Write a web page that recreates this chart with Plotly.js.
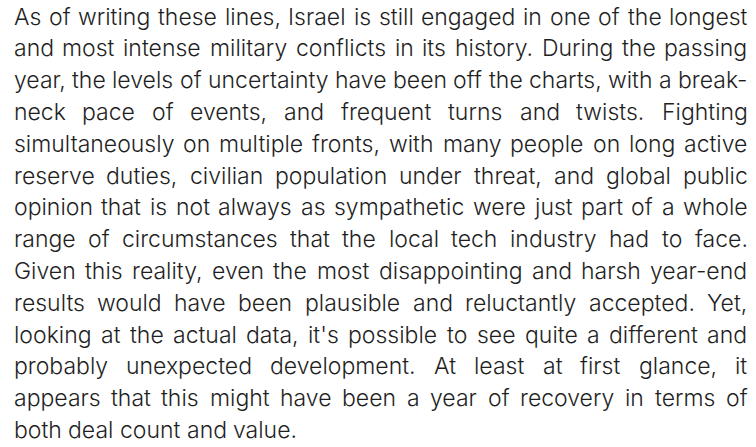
<!DOCTYPE html>
<html>
<head>
<meta charset="utf-8">
<script src="https://cdn.plot.ly/plotly-3.0.1.min.js"></script>
<style>html,body{margin:0;padding:0;background:#fff;}#chart{width:756px;height:447px;}</style>
</head>
<body>
<div id="chart"></div>
<script>
// Paragraph lines as they break in the reference (last line is not justified)
const lines = [
  "As of writing these lines, Israel is still engaged in one of the longest",
  "and most intense military conflicts in its history. During the passing",
  "year, the levels of uncertainty have been off the charts, with a break-",
  "neck pace of events, and frequent turns and twists. Fighting",
  "simultaneously on multiple fronts, with many people on long active",
  "reserve duties, civilian population under threat, and global public",
  "opinion that is not always as sympathetic were just part of a whole",
  "range of circumstances that the local tech industry had to face.",
  "Given this reality, even the most disappointing and harsh year-end",
  "results would have been plausible and reluctantly accepted. Yet,",
  "looking at the actual data, it's possible to see quite a different and",
  "probably unexpected development. At least at first glance, it",
  "appears that this might have been a year of recovery in terms of",
  "both deal count and value."
];
</script>
<script>
const W = 756, H = 447;
const FONT_FAMILY = "Inter";
const FONT_SIZE = 23;
const FONT_WEIGHT = 300;
const LEFT = 12.5, RIGHT = 746.5;
const FIRST_BASE = 25.7, LINE_H = 31.8;
const COLOR = "#1f1f1f";

const cv = document.createElement("canvas").getContext("2d");
cv.font = FONT_WEIGHT + " " + FONT_SIZE + "px " + FONT_FAMILY;
const spaceW = cv.measureText(" ").width;

const annotations = [];
lines.forEach((ln, i) => {
  const words = ln.split(" ");
  const widths = words.map(w => cv.measureText(w).width);
  const total = widths.reduce((a, b) => a + b, 0);
  const last = i === lines.length - 1;
  const gap = (last || words.length < 2) ? spaceW : (RIGHT - LEFT - total) / (words.length - 1);
  const yBase = FIRST_BASE + i * LINE_H;
  let x = LEFT;
  words.forEach((w, j) => {
    annotations.push({
      x: x, y: yBase, xref: "x", yref: "y",
      text: w, showarrow: false, xanchor: "left", yanchor: "bottom",
      borderpad: 0, yshift: -FONT_SIZE * 0.26,
      font: {family: FONT_FAMILY, size: FONT_SIZE, color: COLOR, weight: FONT_WEIGHT}
    });
    x += widths[j] + gap;
  });
});

Plotly.newPlot("chart", [], {
  width: W, height: H,
  margin: {l: 0, r: 0, t: 0, b: 0},
  paper_bgcolor: "#fff", plot_bgcolor: "#fff",
  xaxis: {range: [0, W], visible: false, fixedrange: true},
  yaxis: {range: [H, 0], visible: false, fixedrange: true},
  showlegend: false,
  annotations: annotations
}, {staticPlot: true, displayModeBar: false});
</script>
</body>
</html>
